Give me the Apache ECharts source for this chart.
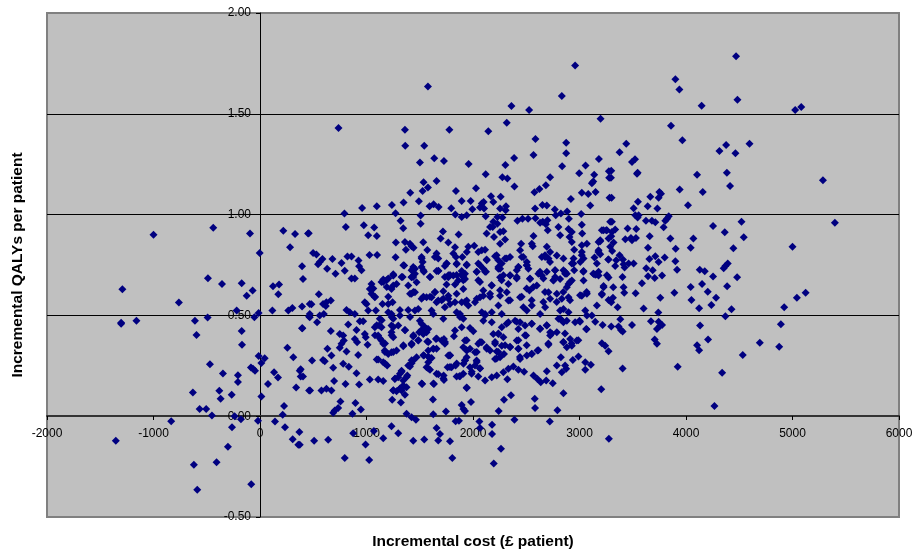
<!DOCTYPE html>
<html><head><meta charset="utf-8">
<style>html,body{margin:0;padding:0;background:#fff}#c{width:917px;height:552px}</style>
<script src="https://cdn.jsdelivr.net/npm/echarts@6/dist/echarts.min.js"></script>
</head><body><div id="c"></div>
<script>
const xTicks = [-2000,-1000,0,1000,2000,3000,4000,5000,6000];
const yTicks = [-0.5,0,0.5,1,1.5,2];
// [incremental cost, incremental QALYs]
const leftPoints = [[-1000,.90],[-439,.935],[-94,.906],[-3,.81],[219,.92],[329,.904],[451,.906],[282,.838],[395,.744],[404,.681],[-489,.684],
[-1292,.63],[-357,.656],[-172,.66],[-69,.623],[-125,.598],[-762,.564],[122,.645],[179,.653],[172,.605],[-219,.524],[-13,.512],[-53,.491],[116,.524],[266,.524],[304,.537],[395,.544],[467,.557],[461,.494],[-1304,.464],[-1304,.458],[-1160,.474],[-611,.474],[-492,.489],[-596,.403],[-172,.423],[395,.436],[-169,.355],[257,.339],[-13,.299],[44,.288],[13,.264],[313,.293],[-470,.258],[-85,.241],[-66,.235],[-47,.225],[382,.233],[-348,.212],[-207,.203],[132,.218],[169,.192],[382,.197],[404,.197],[-207,.17],[75,.16],[339,.142],[461,.127],[-630,.117],[-382,.126],[-370,.086],[-266,.107],[13,.098],[-567,.036],[-505,.036],[-451,.003],[226,.05],[213,.007],[-238,0],[-179,-.015],[-834,-.025],[-19,-.023],[141,-.026],[-263,-.055],[235,-.055],[370,-.078],[-1354,-.122],[307,-.114],[360,-.142],[-301,-.152],[-408,-.228],[-621,-.241],[-589,-.365],[-82,-.337]];
const upperPoints = [[2959,1.739],[1577,1.635],[2834,1.588],[2361,1.539],[2527,1.519],[3198,1.476],[737,1.43],[1361,1.421],[1778,1.421],[2144,1.413],[2317,1.455],[2586,1.375],[2875,1.357],[1364,1.342],[1542,1.342],[2568,1.296],[2875,1.304],[1502,1.258],[1636,1.279],[1727,1.266],[1959,1.251],[2304,1.246],[2386,1.281],[2837,1.24],[3057,1.243],[3182,1.276],[2119,1.2],[2997,1.205],[3138,1.198],[3276,1.215],[3279,1.183],[2276,1.185],[2323,1.179],[2724,1.185],[1536,1.16],[1658,1.167],[1577,1.134],[1527,1.117],[1411,1.109],[1840,1.117],[2028,1.131],[2389,1.14],[2684,1.145],[2624,1.127],[2577,1.111],[3129,1.164],[3116,1.155],[3022,1.109],[3082,1.102],[3151,1.112],[3282,1.084],[2169,1.091],[2260,1.089],[2919,1.078],[1894,1.068],[1978,1.068],[1492,1.066],[2191,1.063],[2100,1.063],[2082,1.055],[1348,1.06],[1238,1.048],[959,1.033],[1097,1.041],[1592,1.041],[1630,1.051],[1677,1.038],[1796,1.031],[1273,1.007],[793,1.005],[1834,1],[1894,.988],[1941,.997],[1994,1.026],[2066,1.035],[2104,1.03],[2119,.992],[2310,1.041],[2254,1.03],[2307,1.021],[2583,1.03],[2652,1.048],[2693,1.045],[2768,1.025],[2777,.997],[2825,1.005],[2884,1.015],[3016,1.003],[3101,1.045],[2900,.979],[3022,.95],[3025,.906],[1320,.97],[1508,.995],[1508,.955],[806,.939],[975,.947],[1072,.936],[1016,.898],[1097,.894],[1345,.932],[458,.907],[1718,.916],[1696,.881],[1865,.901],[1768,.861],[1276,.861],[1361,.864],[1408,.856],[1423,.843],[1442,.836],[1370,.826],[1533,.863],[1571,.825],[1831,.838],[1956,.84],[2012,.845],[1942,.815],[2050,.815],[2113,.826],[2082,.823],[2417,.97],[2464,.979],[2517,.98],[2586,.982],[2630,.959],[2655,.964],[2699,.972],[2702,.922],[2684,.952],[2802,.939],[2818,.898],[2897,.929],[2928,.914],[2906,.889],[2928,.864],[2568,.894],[2552,.856],[2561,.843],[2452,.856],[2442,.823],[2185,.939],[2160,.939],[2128,.906],[2197,.889],[2254,.914],[2285,.917],[2229,.988],[2276,.985],[2191,.964],[2229,.955],[2254,.856],[2301,.876],
[499,.81],[530,.802],[586,.78],[561,.765],[545,.754],[680,.78],[765,.76],[630,.732],[709,.707],[796,.722],[821,.792],[859,.792],[925,.772],[931,.744],[953,.724],[1028,.8],[1100,.8],[859,.683],[890,.683],[1273,.788],[1354,.747],[1517,.79],[1527,.765],[1517,.74],[1539,.716],[1439,.74],[1423,.724],[1455,.732],[1642,.79],[1658,.807],[1674,.782],[1752,.757],[1736,.745],[1658,.72],[1674,.72],[1815,.807],[1840,.79],[1900,.79],[1846,.754],[1941,.752],[1894,.72],[1925,.707],[1846,.7],[1784,.7],[2066,.749],[2097,.732],[2122,.716],[2034,.716],[2128,.777],[2207,.793],[2238,.774],[2270,.757],[2348,.79],[2301,.782],[2254,.732],[2238,.74],[2426,.74],[2411,.724],[2458,.79],[2505,.765],[2520,.732],[2505,.749],[2646,.79],[2693,.84],[2677,.79],[2709,.782],[2724,.815],[2787,.797],[2849,.782],[2771,.724],[2849,.724],[2881,.707],[2950,.724],[2944,.782],[2928,.757],[2950,.826],[3022,.848],[3069,.856],[3022,.815],[3038,.782],[3007,.765],[3179,.864],[3195,.873],[3179,.823],[3195,.803],[3141,.787],[3163,.757],[3257,.922],[3210,.922],[3288,.964],[3273,.777],[3273,.881],[3288,.84],[3038,.72],[3132,.707],[3163,.704],[3179,.716],[3257,.699],[2614,.707],[2693,.716],[2771,.691],[2661,.683],[2348,.699],[2411,.691],[2285,.699],[1251,.704],[1204,.683],[1157,.678],[1439,.691],[1329,.691],[1596,.691],[1910,.691],[1736,.691]];
const rightPoints = [[4470,1.785],[3900,1.671],[3938,1.62],[4483,1.57],[4147,1.54],[5025,1.519],[5082,1.534],[3859,1.441],[3966,1.369],[4596,1.352],[4377,1.345],[4314,1.316],[4464,1.304],[3439,1.352],[3376,1.309],[3521,1.274],[3493,1.261],[3298,1.217],[3295,1.183],[3540,1.203],[3546,1.208],[4104,1.198],[4384,1.207],[5286,1.17],[4414,1.142],[3941,1.124],[4157,1.112],[3750,1.112],[3765,1.104],[3743,1.084],[3665,1.088],[3301,1.084],[3549,1.064],[4019,1.046],[3640,1.041],[3731,1.03],[3508,1.031],[3555,.997],[3524,.997],[3546,.985],[3838,.992],[3822,.98],[3806,.969],[4521,.965],[5398,.96],[4254,.944],[4364,.912],[3304,.964],[3624,.969],[3680,.969],[3712,.962],[3790,.937],[3452,.931],[3533,.929],[3226,.922],[3251,.922],[3335,.926],[3304,.914],[3298,.893],[3659,.893],[3853,.881],[4069,.881],[4542,.888],[3430,.878],[3483,.884],[3493,.873],[3530,.884],[3320,.861],[3195,.868],[3643,.836],[3903,.83],[4044,.836],[4445,.833],[5000,.84],[3307,.82],[3376,.798],[3408,.777],[3345,.774],[3270,.777],[3656,.78],[3712,.793],[3800,.787],[3743,.765],[3508,.757],[3461,.757],[3414,.754],[3423,.737],[3335,.745],[3900,.769],[3627,.734],[3687,.724],[3916,.727],[4129,.727],[4176,.719],[4392,.757],[4370,.745],[4354,.734],[3404,.691],[3273,.688],[3643,.694],[3706,.686],[3775,.698],[4254,.693],[4480,.689],
[3226,.646],[3317,.64],[3414,.64],[3420,.612],[3527,.61],[3586,.66],[3891,.612],[4044,.641],[4151,.656],[4204,.617],[4386,.645],[4282,.587],[4051,.577],[3759,.587],[3210,.603],[3273,.577],[3314,.587],[3298,.565],[3358,.54],[3602,.534],[3740,.514],[4123,.536],[4238,.552],[4427,.531],[4370,.496],[4922,.54],[5041,.588],[5123,.612],[3383,.481],[3217,.453],[3298,.445],[3367,.445],[3389,.428],[3405,.42],[3493,.453],[3671,.471],[3743,.469],[3759,.45],[3727,.433],[3775,.453],[4132,.45],[4891,.456],[3706,.38],[3727,.359],[4207,.38],[4104,.352],[4123,.327],[4693,.364],[4875,.344],[4533,.304],[3210,.362],[3241,.349],[3273,.322],[3405,.236],[3922,.245],[4339,.215],[3204,.134],[4267,.051],[3276,-.112]];
const lowerPoints = [[552,.605],[483,.555],[467,.507],[467,.491],[536,.466],[561,.499],[599,.507],[618,.547],[665,.574],[592,.557],[623,.565],[398,.436],[665,.423],[812,.527],[843,.516],[890,.507],[828,.455],[937,.471],[969,.471],[906,.428],[749,.408],[781,.4],[787,.375],[765,.359],[749,.339],[633,.334],[671,.301],[812,.321],[592,.279],[608,.273],[687,.24],[489,.276],[781,.26],[834,.245],[922,.304],[890,.383],[912,.367],[984,.408],[993,.392],[1010,.355],[906,.213],[696,.174],[803,.16],[931,.157],[373,.226],[470,.127],[577,.127],[624,.136],[671,.127],[755,.073],[896,.066],[947,.033],[734,.041],[702,.028],[687,.017],[868,.012],[1031,.182],[1110,.182],[1157,.174],[1069,-.074],[875,-.084],[1157,-.109],[991,-.14],[796,-.207],[1025,-.217],[640,-.117],[508,-.122],[373,-.142],[1235,-.05],[1298,-.084],[1439,-.122],[1542,-.116],[1658,-.058],[1690,-.088],[1674,-.121],[1784,-.124],[1806,-.207],[1837,-.025],[1868,-.023],[2060,-.026],[2066,-.058],[2179,-.043],[2179,-.088],[2263,-.162],[2195,-.235],[2389,-.017],[2721,-.026],[1376,.012],[1423,-.005],[1464,-.018],[1627,.01],[1746,.023],[1624,.083],[1241,.081],[1323,.068],[1361,.107],[1251,.127],[1282,.124],[1314,.136],[1345,.152],[1376,.144],[1329,.127],[1523,.16],[1633,.16],[1266,.185],[1298,.193],[1345,.177],[1383,.202],[1329,.226],[1314,.21],[1408,.246],[1439,.276],[1470,.293],[1423,.263],[1392,.251],[1110,.281],[1157,.268],[1194,.251],[1172,.326],[1204,.309],[1235,.317],[1282,.326],[1345,.347],[1423,.355],[1486,.375],[1439,.395],[1495,.417],[1517,.428],[1549,.441],[1580,.433],[1564,.417],[1533,.408],[1571,.37],[1539,.301],[1580,.296],[1611,.289],[1580,.268],[1564,.243],[1596,.23],[1580,.326],[1627,.334],[1658,.334],[1658,.21],[1724,.202],[1727,.18],[1652,.383],[1705,.375],[1736,.359],[1727,.383],[1768,.301],[1784,.301],[1762,.243],[1799,.243],[1837,.251],[1878,.198],[1846,.197],[1909,.21],[1941,.14],[1981,.071],[1894,.056],[1910,.036],[1925,.026],[1925,.276],[1941,.293],[1910,.26],[1972,.243],[1987,.21],[1909,.342],[1941,.326],[1972,.334],[1925,.375],[2019,.317],[2034,.276],[2019,.251],[2066,.238],[2050,.197],[2113,.177],[2176,.193],[2223,.202],[2285,.218],[2332,.235],[2379,.246],[2323,.183],[2426,.231],[2480,.221],[2291,.081],[2357,.104],[2241,.026],[2580,.086],[2583,.041],[2793,.03],[2849,.114],[2568,.202],[2605,.185],[2636,.169],[2687,.177],[2749,.164],[2693,.223],[2787,.251],[2834,.218],[2875,.235],[2865,.251],[2825,.293],[2937,.279],[2990,.296],[3054,.268],[3107,.255],[3054,.23]];
const centrePoints = [[2082,.367],[2050,.359],[2128,.342],[2160,.326],[2207,.359],[2270,.35],[2348,.342],[2207,.284],[2254,.293],[2291,.309],[2223,.321],[2442,.284],[2426,.334],[2505,.301],[2552,.309],[2605,.326],[2411,.375],[2498,.4],[2709,.355],[2724,.4],[2787,.417],[2849,.367],[2912,.383],[2975,.375],[2881,.342],[2928,.35],[2191,.408],[2270,.441],[2238,.408],[2285,.392],[2332,.466],[2395,.474],[2442,.466],[2426,.433],[2489,.45],[2552,.458],[2630,.433],[2693,.45],[2724,.417],[2802,.483],[2849,.466],[2881,.474],[2959,.466],[3000,.474],[3063,.433],[3148,.469],[1831,.425],[1894,.441],[1972,.438],[2003,.421],[1821,.397],[1721,.483],[1878,.507],[1909,.483],[1846,.516],[1611,.524],[1627,.507],[1501,.474],[1517,.458],[1486,.532],[1455,.524],[1392,.527],[1314,.527],[1314,.499],[1235,.507],[1204,.516],[1251,.483],[1119,.45],[1078,.441],[1141,.441],[1125,.483],[1235,.45],[1298,.45],[1235,.417],[1361,.428],[1251,.392],[1110,.4],[1141,.375],[1157,.359],[1016,.524],[1088,.524],[1150,.557],[984,.565],[1000,.557],[1204,.557],[1245,.565],[1078,.59],[1047,.607],[1031,.631],[1047,.656],[1204,.593],[1141,.666],[1188,.674],[1251,.648],[1282,.656],[1251,.698],[1235,.631],[1392,.648],[1423,.607],[1455,.615],[1470,.665],[1423,.689],[1455,.706],[1517,.582],[1564,.59],[1611,.59],[1642,.615],[1674,.574],[1721,.582],[1721,.62],[1768,.598],[1846,.607],[1752,.653],[1768,.689],[1831,.653],[1815,.698],[1909,.631],[1903,.706],[1862,.673],[1925,.681],[1658,.565],[1736,.54],[1784,.557],[1831,.565],[1894,.565],[1941,.574],[1956,.549],[2019,.565],[2066,.666],[2097,.623],[2097,.598],[2066,.59],[2160,.607],[2176,.648],[2254,.689],[2332,.656],[2348,.698],[2082,.516],[2113,.507],[2176,.516],[2097,.474],[2176,.466],[2270,.507],[2238,.549],[2332,.574],[2254,.598],[2317,.615],[2442,.59],[2530,.623],[2599,.648],[2536,.681],[2646,.698],[2755,.673],[2818,.681],[2865,.706],[2473,.54],[2505,.524],[2552,.549],[2630,.507],[2677,.54],[2724,.582],[2787,.607],[2834,.582],[2709,.615],[2897,.656],[2928,.673],[2881,.64],[2818,.524],[2849,.532],[2818,.483],[2897,.516],[2897,.59],[3022,.598],[3069,.607],[3054,.524],[3069,.499],[3116,.499],[3163,.549],[3210,.607],[3226,.64],[3038,.673],[3148,.702],[3179,.698]];
const densePoints = [[1346,.749],[1440,.732],[1424,.691],[1340,.691],[1252,.699],[1158,.666],[1190,.641],[1064,.633],[1080,.592],[1440,.616],[1409,.608],[1534,.592],[1596,.592],[1643,.616],[1769,.583],[1706,.575],[1769,.699],[1753,.757],[1675,.721],[1596,.691],[1518,.782],[1534,.724],[1847,.757],[1941,.749],[1894,.699],[1909,.674],[2050,.674],[2035,.716],[2129,.773],[2113,.716],[2238,.732],[2269,.674],[2175,.65],[2254,.625],[2050,.757],[2316,.782],[2222,.798],[2426,.74],[2410,.683],[2504,.749],[2473,.79],[2535,.683],[2629,.716],[2755,.674],[2770,.724],[2864,.716],[2911,.666],[2848,.616],[2676,.616],[2661,.567],[2723,.765],[2676,.798],[2942,.757],[3021,.798],[3036,.716],[3130,.707],[3177,.815],[3067,.616],[3005,.6],[2911,.575],[2504,.633],[2567,.641],[2160,.592],[2035,.583],[1925,.567],[2348,.575],[2457,.592],[2551,.575],[2786,.567],
[1096,.451],[1143,.476],[1080,.401],[1127,.385],[1174,.36],[1252,.443],[1236,.401],[1362,.426],[1346,.352],[1424,.36],[1487,.377],[1440,.401],[1565,.434],[1534,.41],[1581,.368],[1659,.385],[1737,.368],[1628,.335],[1784,.302],[1096,.281],[1174,.261],[1252,.319],[1174,.319],[1424,.277],[1534,.302],[1596,.286],[1581,.236],[1675,.208],[1722,.187],[1268,.187],[1330,.22],[1377,.195],[1252,.129],[1346,.145],[1315,.137],[1518,.162],[1628,.162],[1941,.142],[1872,.198],[1784,.244],[1847,.261],[1925,.277],[2035,.269],[1988,.22],[2066,.236],[1941,.377],[1941,.327],[2035,.319],[2066,.368],[2129,.335],[2238,.319],[2222,.286],[2207,.368],[2301,.352],[2348,.344],[2426,.377],[2488,.401],[2426,.335],[2504,.352],[2441,.294],[2551,.31],[2614,.327],[2238,.41],[2316,.459],[2410,.468],[2551,.459],[2692,.451],[2629,.435],[2739,.41],[2708,.36],[2864,.41],[2848,.368],[2926,.36],[2989,.377],[3067,.431],[3005,.468],[2833,.476],[2113,.501],[1878,.492],[1409,.492],[1236,.492]];
const points = [...leftPoints,...upperPoints,...rightPoints,...lowerPoints,...centrePoints,...densePoints];

const FONT = '"Liberation Sans", Arial, sans-serif';
const chart = echarts.init(document.getElementById('c'), null, {renderer:'canvas'});
chart.setOption({
  animation:false,
  backgroundColor:'#fff',
  grid:{left:47,right:18,top:13,bottom:35,show:true,backgroundColor:'#C0C0C0',borderColor:'#808080',borderWidth:2,containLabel:false,outerBoundsMode:'none'},
  xAxis:{type:'value',position:'bottom',offset:-101,min:xTicks[0],max:xTicks[xTicks.length-1],interval:1000,
    name:'Incremental cost (£ patient)',nameLocation:'middle',nameGap:118,
    nameTextStyle:{fontFamily:FONT,fontSize:15.5,fontWeight:'bold',color:'#000'},
    axisLine:{onZero:false,lineStyle:{color:'#333',width:2}},
    axisTick:{show:true,length:4,lineStyle:{color:'#000'}},
    axisLabel:{fontFamily:FONT,fontSize:12,color:'#000',margin:12,formatter:v=>String(v)},
    splitLine:{show:false}},
  yAxis:{type:'value',position:'left',offset:-213,min:yTicks[0],max:yTicks[yTicks.length-1],interval:0.5,
    name:'Incremental QALYs per patient',nameLocation:'middle',nameGap:234,nameRotate:90,
    nameTextStyle:{fontFamily:FONT,fontSize:15.5,fontWeight:'bold',color:'#000'},
    axisLine:{onZero:false,lineStyle:{color:'#000',width:1}},
    axisTick:{show:true,length:4,lineStyle:{color:'#000'}},
    axisLabel:{fontFamily:FONT,fontSize:12,color:'#000',margin:9,formatter:v=>v.toFixed(2)},
    splitLine:{show:true,showMinLine:false,showMaxLine:false,lineStyle:{color:'#000',width:1}}},
  series:[{type:'scatter',data:points,symbol:'diamond',symbolSize:8,itemStyle:{color:'#000080',opacity:1},silent:true}]
});
</script></body></html>
